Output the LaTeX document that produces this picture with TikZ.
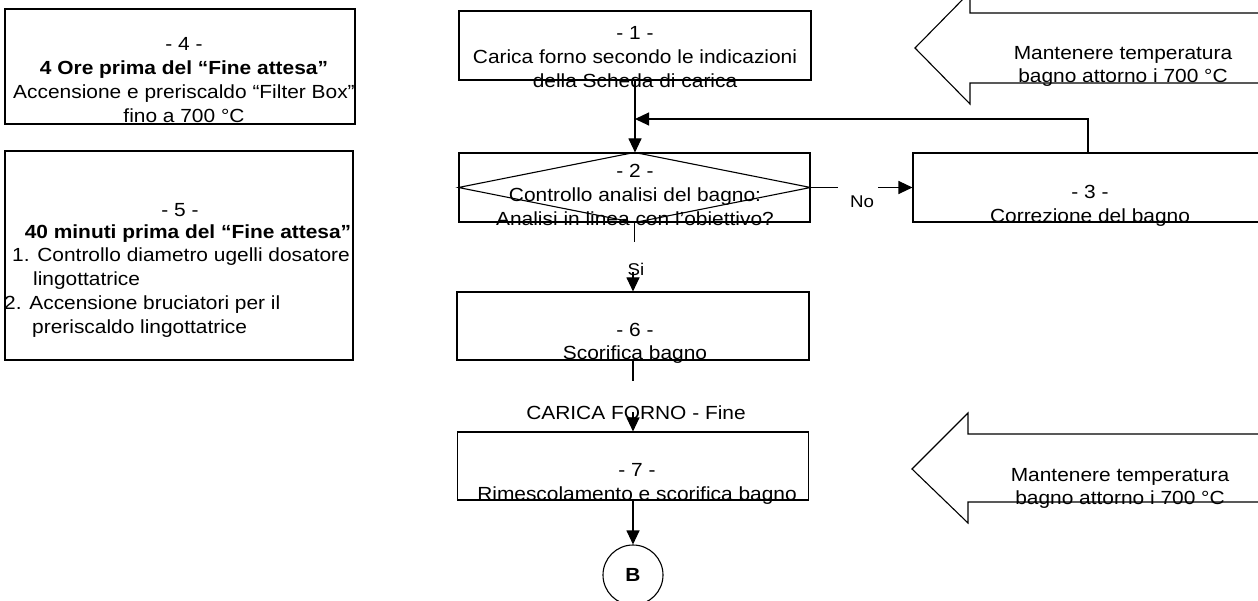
\documentclass[tikz,border=0pt]{standalone}
\usepackage{fontspec}
\setmainfont[FakeStretch=1.1]{Liberation Sans}
\usetikzlibrary{arrows.meta}
\begin{document}
\begin{tikzpicture}[x=1pt,y=-1pt,
  box/.style={draw, line width=1.1pt, inner sep=0pt},
  lbl/.style={inner sep=0pt, anchor=base, align=center, font=\fontsize{19}{24}\selectfont},
  lbll/.style={inner sep=0pt, anchor=base west, font=\fontsize{19}{24}\selectfont},
  small/.style={inner sep=0pt, anchor=base, font=\fontsize{17}{20}\selectfont},
  conn/.style={line width=1.1pt},
  arr/.style={conn, -{Triangle[length=14pt,width=13pt]}},
  blockarrow/.style={line width=1.1pt, line join=miter}
]
\useasboundingbox (0,0) rectangle (1258,601);
\clip (0,0) rectangle (1258,601);

% boxes
\node[box, minimum width=350pt, minimum height=115pt] (b4) at (180,66.5) {};
\node[box, minimum width=348pt, minimum height=209pt] (b5) at (179,255.5) {};
\node[box, minimum width=352pt, minimum height=69pt] (b1) at (635,45.5) {};
\node[box, minimum width=351pt, minimum height=69pt] (b2) at (634.5,187.5) {};
\node[box, minimum width=374pt, minimum height=69pt] (b3) at (1100,187.5) {};
\node[box, minimum width=352pt, minimum height=68pt] (b6) at (633,326) {};
\node[box, minimum width=351pt, minimum height=68pt] (b7) at (633,466) {};
\node[draw, circle, line width=1.1pt, minimum size=60pt, inner sep=0pt,
      font=\fontsize{19}{24}\selectfont\bfseries] (cB) at (633,575) {B};

% diamond inside box 2
\draw[conn] (b2.north) -- (b2.east) -- (b2.south) -- (b2.west) -- cycle;

% block arrows
\draw[blockarrow] (1270,13) -- (970,13) -- (970,-8) -- (915,48) -- (970,104) -- (970,83) -- (1270,83);
\draw[blockarrow] (1270,434) -- (968,434) -- (968,413) -- (912,469) -- (968,523) -- (968,502) -- (1270,502);

% texts (base anchor = baseline of last line)
\node[lbl] (t4) at (184,123) {- 4 -\\\textbf{4 Ore prima del “Fine attesa”}\\Accensione e preriscaldo “Filter Box”\\fino a 700 °C};
\node[lbl] (t5a) at (180,217) {- 5 -};
\node[lbl] (t5b) at (188,239) {\textbf{40 minuti prima del “Fine attesa”}};
\node[lbll] (t5c) at (12,262) {1. Controllo diametro ugelli dosatore};
\node[lbll] (t5d) at (33,286) {lingottatrice};
\node[lbll] (t5e) at (4,310) {2. Accensione bruciatori per il};
\node[lbll] (t5f) at (32,334) {preriscaldo lingottatrice};
\node[lbl] (t1) at (635,88) {- 1 -\\Carica forno secondo le indicazioni\\della Scheda di carica};
\node[lbl] (t2) at (635,226) {- 2 -\\Controllo analisi del bagno:\\Analisi in linea con l’obiettivo?};
\node[lbl] (t3) at (1090,223) {- 3 -\\Correzione del bagno};
\node[lbl] (t6) at (635,360) {- 6 -\\Scorifica bagno};
\node[lbl] (t7) at (637,500) {- 7 -\\Rimescolamento e scorifica bagno};
\node[lbl, font=\fontsize{19}{23}\selectfont] (ta1) at (1123,83) {Mantenere temperatura\\bagno attorno i 700 °C};
\node[lbl, font=\fontsize{19}{23}\selectfont] (ta2) at (1120,504) {Mantenere temperatura\\bagno attorno i 700 °C};
\node[small] (no) at (862,208) {No};
\node[small] (si) at (636,276) {Si};
\node[lbl] (fine) at (636,419) {CARICA FORNO - Fine};

% connectors
\draw[arr] (b1.south) -- (b1.south |- b2.north);
\coordinate (fbc) at (1088,119);
\coordinate (mrg) at (635,119);
\draw[arr] (b3.north -| fbc) -- (fbc) -- (mrg);
\coordinate (no1) at (838,187.5);
\coordinate (no2) at (878,187.5);
\draw[conn] (b2.east) -- (no1);
\draw[arr] (no2) -- (b3.west);
\coordinate (sicut) at (634.5,242);
\draw[conn] (b2.south) -- (sicut);
\coordinate (sistart) at (633,272);
\draw[arr] (sistart) -- (b6.north);
\coordinate (cut6) at (633,381);
\draw[conn] (b6.south) -- (cut6);
\coordinate (finearr) at (633,412);
\draw[arr] (finearr) -- (b7.north);
\draw[arr] (b7.south) -- (cB.north);
\end{tikzpicture}
\end{document}
